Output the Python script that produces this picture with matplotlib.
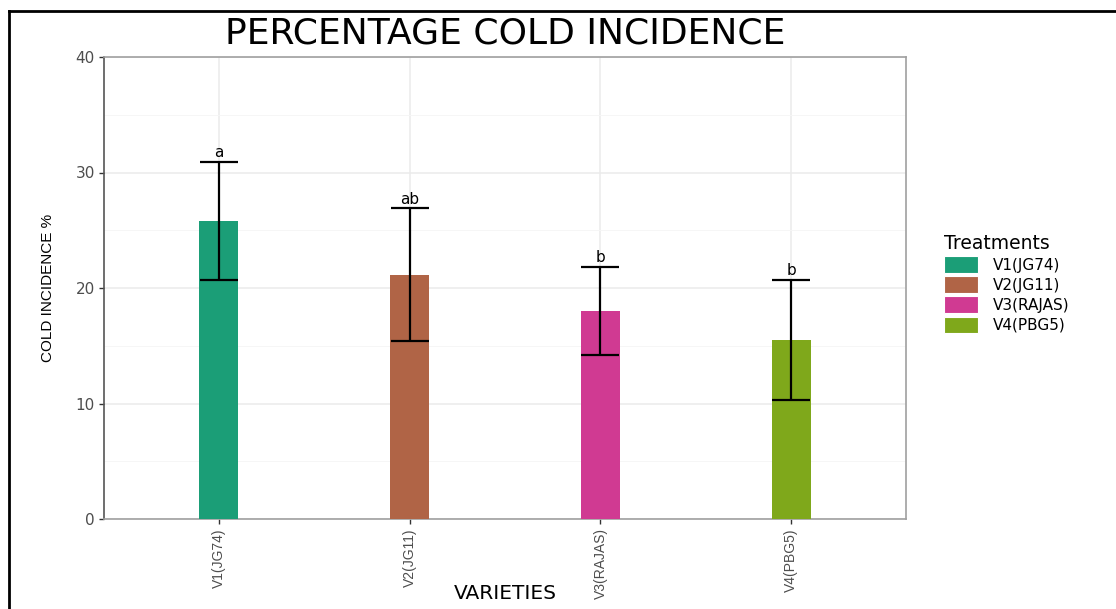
import matplotlib
matplotlib.use('Agg')
import matplotlib.pyplot as plt
from matplotlib.lines import Line2D
from matplotlib.patches import Patch
import numpy as np

varieties = ['V1(JG74)', 'V2(JG11)', 'V3(RAJAS)', 'V4(PBG5)']
incidence = [25.8, 21.15, 18.0, 15.5]
sd = [5.1, 5.75, 3.8, 5.2]
groups = ['a', 'ab', 'b', 'b']
colors = ['#1B9E77', '#B06446', '#D03A92', '#7FA81B']

narrow = ['Liberation Sans Narrow', 'Liberation Sans', 'DejaVu Sans']
wide = ['DejaVu Sans']

fig = plt.figure(figsize=(11.16, 6.09), dpi=100)
ax = fig.add_axes([104 / 1116, 90 / 609, 802 / 1116, 462 / 609])

x = np.arange(1, len(varieties) + 1)
ax.bar(x, incidence, width=0.2, color=colors, zorder=3)
ax.errorbar(x, incidence, yerr=sd, fmt='none', ecolor='black',
            elinewidth=1.6, capsize=14, capthick=1.6, zorder=4)
for xi, m, s, g in zip(x, incidence, sd, groups):
    ax.text(xi, m + s + 0.15, g, ha='center', va='bottom',
            fontsize=11, family=wide, color='black', zorder=5)

ax.set_xlim(0.4, 4.6)
ax.set_ylim(0, 40)
ax.set_yticks([0, 10, 20, 30, 40])
ax.set_yticks([5, 15, 25, 35], minor=True)
ax.set_xticks(x)
ax.set_xticklabels(varieties, rotation=90, family=narrow, fontsize=10, color='#4d4d4d')
for lab in ax.get_yticklabels():
    lab.set_family(wide)
    lab.set_fontsize(11)
    lab.set_color('#4d4d4d')

ax.grid(which='major', color='#ebebeb', linewidth=1.1, zorder=0)
ax.grid(which='minor', axis='y', color='#f5f5f5', linewidth=0.6, zorder=0)
ax.tick_params(which='major', length=3.5, width=1, color='#333333', pad=3)
ax.tick_params(which='minor', length=0)
for side in ax.spines.values():
    side.set_color('#a0a0a0')
    side.set_linewidth(1.2)
ax.spines['left'].set_color('#555555')

ax.set_xlabel('VARIETIES', family=wide, fontsize=14.5, labelpad=0)
ax.xaxis.set_label_coords(0.5, -0.14)
ax.set_ylabel('COLD INCIDENCE %', family=narrow, fontsize=11, labelpad=15)
fig.text(505 / 1116, 1 - 33 / 609, 'PERCENTAGE COLD INCIDENCE', ha='center', va='center',
         family=wide, fontsize=26)

handles = [Patch(facecolor=c, edgecolor='white', linewidth=0.8) for c in colors]
fig.legend(handles, varieties, title='Treatments', loc='upper left',
           bbox_to_anchor=(938 / 1116, 1 - 228 / 609), frameon=False,
           prop={'family': wide, 'size': 11}, title_fontproperties={'family': wide, 'size': 13.5},
           handlelength=2.2, handleheight=1.3, handletextpad=1.0, labelspacing=0.22,
           alignment='left', borderaxespad=0)

# page frame
fig.add_artist(Line2D([9 / 1116, 9 / 1116], [0, 1 - 11 / 609], color='black', lw=2))
fig.add_artist(Line2D([9 / 1116, 1], [1 - 11 / 609, 1 - 11 / 609], color='black', lw=2))

fig.savefig('out.png', dpi=100)
